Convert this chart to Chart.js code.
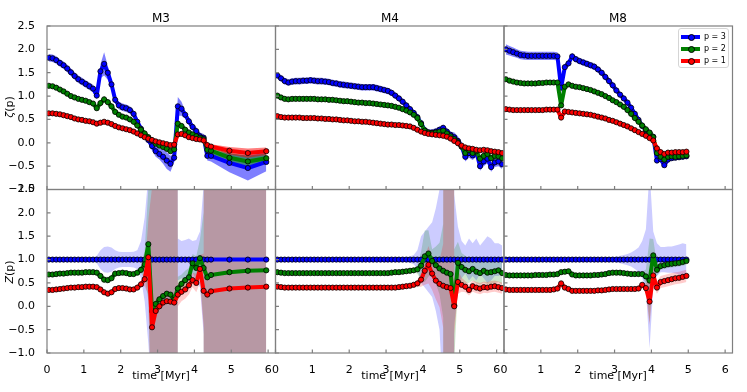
<!DOCTYPE html>
<html>
<head>
<meta charset="utf-8">
<script src="https://cdn.jsdelivr.net/npm/chart.js@4.4.0/dist/chart.umd.min.js"></script>
<style>
  html, body { margin: 0; padding: 0; background: #fff; }
  #fig { position: relative; width: 747px; height: 392px; background: #fff; font-family: 'DejaVu Sans', sans-serif; color: #000; overflow: hidden; }
  #fig canvas { position: absolute; left: 0; top: 0; }
  .lbl { position: absolute; white-space: nowrap; transform: translate(-50%, -50%); line-height: 1; }
  .ylbl { transform: translate(-50%, -50%) rotate(-90deg); }
  #legend { position: absolute; left: 678px; top: 28px; width: 49px; height: 38px; border: 1px solid #d5d5d5; border-radius: 3px; background: rgba(255,255,255,0.85); font-size: 8px; }
  .lg-row { position: absolute; left: 0; width: 100%; height: 10px; }
  .lg-line { position: absolute; left: 2px; top: 3px; width: 19px; height: 4px; }
  .lg-dot { position: absolute; left: 8.5px; top: 2px; width: 5px; height: 5px; border: 0.8px solid #000; border-radius: 50%; }
  .lg-text { position: absolute; left: 25px; top: 0; line-height: 10px; }
</style>
</head>
<body>
<div id="fig">
  <canvas id="m3top" width="747" height="392"></canvas>
  <canvas id="m4top" width="747" height="392"></canvas>
  <canvas id="m8top" width="747" height="392"></canvas>
  <canvas id="m3bot" width="747" height="392"></canvas>
  <canvas id="m4bot" width="747" height="392"></canvas>
  <canvas id="m8bot" width="747" height="392"></canvas>

  <div class="lbl" style="left:161px;top:18px;font-size:12px">M3</div>
  <div class="lbl" style="left:390px;top:18px;font-size:12px">M4</div>
  <div class="lbl" style="left:618px;top:18px;font-size:12px">M8</div>
  <div class="lbl ylbl" style="left:9px;top:107px;font-size:11px"><i>ζ</i>(p)</div>
  <div class="lbl ylbl" style="left:9px;top:272px;font-size:11px"><i>Z</i>(p)</div>
  <div class="lbl" style="left:161px;top:375px;font-size:11px">time [Myr]</div>
  <div class="lbl" style="left:390px;top:375px;font-size:11px">time [Myr]</div>
  <div class="lbl" style="left:618px;top:375px;font-size:11px">time [Myr]</div>
  <div id="legend"></div>
</div>
<script>
// ---- time samples ----
const timeM3 = [0.05,0.15,0.25,0.35,0.45,0.55,0.65,0.75,0.85,0.95,
  1.05,1.15,1.25,1.35,1.45,1.55,1.65,1.75,1.85,1.95,
  2.05,2.15,2.25,2.35,2.45,2.55,2.65,2.75,2.85,2.95,
  3.05,3.15,3.25,3.35,3.45,3.55,3.65,3.75,3.85,3.95,
  4.05,4.15,4.25,4.35,4.45,4.95,5.45,5.95];
const timeM4 = [0.05,0.15,0.25,0.35,0.45,0.55,0.65,0.75,0.85,0.95,
  1.05,1.15,1.25,1.35,1.45,1.55,1.65,1.75,1.85,1.95,
  2.05,2.15,2.25,2.35,2.45,2.55,2.65,2.75,2.85,2.95,
  3.05,3.15,3.25,3.35,3.45,3.55,3.65,3.75,3.85,3.95,
  4.05,4.15,4.25,4.35,4.45,4.55,4.65,4.75,4.85,4.95,
  5.05,5.15,5.25,5.35,5.45,5.55,5.65,5.75,5.85,5.95,
  6.05,6.15];
const timeM8 = [0.05,0.15,0.25,0.35,0.45,0.55,0.65,0.75,0.85,0.95,
  1.05,1.15,1.25,1.35,1.45,1.55,1.65,1.75,1.85,1.95,
  2.05,2.15,2.25,2.35,2.45,2.55,2.65,2.75,2.85,2.95,
  3.05,3.15,3.25,3.35,3.45,3.55,3.65,3.75,3.85,3.95,
  4.05,4.15,4.25,4.35,4.45,4.55,4.65,4.75,4.85,4.95];

const xTicks = [0, 1, 2, 3, 4, 5, 6];
const yTicks = [-1.0, -0.5, 0.0, 0.5, 1.0, 1.5, 2.0, 2.5];

// ---- zeta(p), M3 ----
const zetaM3_p3 = [1.82,1.81,1.77,1.71,1.66,1.59,1.51,1.43,1.36,1.31,
  1.26,1.21,1.16,1.01,1.53,1.69,1.50,1.25,0.92,0.80,
  0.76,0.74,0.70,0.62,0.45,0.30,0.16,0.06,-0.07,-0.18,
  -0.24,-0.30,-0.38,-0.45,-0.32,0.78,0.73,0.60,0.46,0.34,
  0.25,0.14,0.11,-0.28,-0.28,-0.43,-0.54,-0.41];
const errZetaM3_p3 = [0.08,0.08,0.08,0.08,0.08,0.08,0.08,0.08,0.08,0.08,
  0.08,0.08,0.08,0.08,0.15,0.25,0.15,0.10,0.08,0.08,
  0.08,0.08,0.08,0.08,0.08,0.08,0.08,0.08,0.10,0.12,
  0.12,0.15,0.18,0.17,0.10,0.20,0.15,0.08,0.08,0.08,
  0.08,0.08,0.08,0.10,0.12,0.20,0.27,0.20];
const zetaM3_p2 = [1.22,1.21,1.18,1.14,1.10,1.05,1.00,0.97,0.94,0.92,
  0.90,0.87,0.84,0.74,0.85,0.93,0.87,0.78,0.66,0.60,
  0.56,0.54,0.50,0.45,0.37,0.28,0.20,0.12,0.05,-0.02,
  -0.06,-0.09,-0.13,-0.18,-0.14,0.41,0.36,0.28,0.22,0.18,
  0.14,0.11,0.08,-0.15,-0.17,-0.32,-0.40,-0.33];
const errZetaM3_p2 = [0.04,0.04,0.04,0.04,0.04,0.04,0.04,0.04,0.04,0.04,
  0.04,0.04,0.04,0.04,0.04,0.07,0.04,0.04,0.04,0.04,
  0.04,0.04,0.04,0.04,0.04,0.04,0.04,0.04,0.04,0.05,
  0.05,0.05,0.05,0.05,0.04,0.04,0.04,0.04,0.04,0.04,
  0.04,0.04,0.04,0.06,0.07,0.10,0.12,0.10];
const zetaM3_p1 = [0.63,0.63,0.62,0.61,0.59,0.57,0.55,0.52,0.50,0.49,
  0.47,0.46,0.44,0.41,0.43,0.45,0.43,0.40,0.36,0.33,
  0.31,0.29,0.27,0.24,0.20,0.16,0.12,0.09,0.06,0.03,
  0.01,-0.01,-0.03,-0.05,-0.04,0.18,0.19,0.16,0.12,0.10,
  0.08,0.07,0.05,-0.05,-0.08,-0.17,-0.22,-0.18];
const errZetaM3_p1 = [0.03,0.03,0.03,0.03,0.03,0.03,0.03,0.03,0.03,0.03,
  0.03,0.03,0.03,0.03,0.03,0.03,0.03,0.03,0.03,0.03,
  0.03,0.03,0.03,0.03,0.03,0.03,0.03,0.03,0.03,0.03,
  0.03,0.03,0.03,0.03,0.03,0.03,0.03,0.03,0.03,0.03,
  0.03,0.03,0.03,0.04,0.05,0.08,0.10,0.08];

// ---- zeta(p), M4 ----
const zetaM4_p3 = [1.44,1.38,1.32,1.29,1.31,1.32,1.32,1.33,1.33,1.34,
  1.33,1.32,1.32,1.31,1.30,1.28,1.27,1.25,1.24,1.23,
  1.22,1.21,1.20,1.19,1.19,1.19,1.19,1.17,1.15,1.13,
  1.11,1.07,1.01,0.95,0.88,0.80,0.72,0.64,0.55,0.42,
  0.27,0.22,0.22,0.24,0.28,0.32,0.24,0.17,0.12,0.04,
  -0.08,-0.30,-0.22,-0.27,-0.20,-0.50,-0.40,-0.34,-0.52,-0.42,
  -0.40,-0.46];
const errZetaM4_p3 = [0.07,0.07,0.07,0.07,0.07,0.07,0.07,0.07,0.07,0.07,
  0.07,0.07,0.07,0.07,0.07,0.07,0.07,0.07,0.07,0.07,
  0.07,0.07,0.07,0.07,0.07,0.07,0.07,0.07,0.07,0.07,
  0.07,0.07,0.07,0.07,0.07,0.07,0.07,0.07,0.07,0.07,
  0.07,0.07,0.07,0.07,0.07,0.07,0.07,0.07,0.10,0.10,
  0.10,0.10,0.10,0.10,0.10,0.10,0.10,0.10,0.10,0.10,
  0.10,0.10];
const zetaM4_p2 = [1.01,0.97,0.94,0.93,0.94,0.94,0.94,0.94,0.94,0.94,
  0.94,0.93,0.93,0.93,0.92,0.92,0.91,0.90,0.89,0.89,
  0.88,0.87,0.86,0.86,0.85,0.85,0.84,0.83,0.82,0.81,
  0.80,0.79,0.77,0.75,0.72,0.69,0.65,0.60,0.53,0.40,
  0.26,0.22,0.21,0.22,0.24,0.26,0.20,0.14,0.08,0.01,
  -0.08,-0.22,-0.16,-0.22,-0.18,-0.34,-0.28,-0.24,-0.33,-0.28,
  -0.29,-0.33];
const errZetaM4_p2 = [0.05,0.05,0.05,0.05,0.05,0.05,0.05,0.05,0.05,0.05,
  0.05,0.05,0.05,0.05,0.05,0.05,0.05,0.05,0.05,0.05,
  0.05,0.05,0.05,0.05,0.05,0.05,0.05,0.05,0.05,0.05,
  0.05,0.05,0.05,0.05,0.05,0.05,0.05,0.05,0.05,0.05,
  0.05,0.05,0.05,0.05,0.05,0.05,0.05,0.05,0.07,0.07,
  0.07,0.07,0.07,0.07,0.07,0.07,0.07,0.07,0.07,0.07,
  0.07,0.07];
const zetaM4_p1 = [0.57,0.55,0.54,0.54,0.54,0.54,0.54,0.53,0.53,0.53,
  0.53,0.52,0.52,0.51,0.51,0.50,0.50,0.49,0.48,0.48,
  0.47,0.46,0.46,0.45,0.45,0.44,0.43,0.42,0.41,0.40,
  0.39,0.39,0.38,0.38,0.37,0.36,0.35,0.32,0.28,0.24,
  0.21,0.19,0.18,0.17,0.16,0.15,0.13,0.09,0.04,-0.01,
  -0.06,-0.10,-0.12,-0.13,-0.15,-0.16,-0.15,-0.16,-0.18,-0.19,
  -0.20,-0.22];
const errZetaM4_p1 = [0.03,0.03,0.03,0.03,0.03,0.03,0.03,0.03,0.03,0.03,
  0.03,0.03,0.03,0.03,0.03,0.03,0.03,0.03,0.03,0.03,
  0.03,0.03,0.03,0.03,0.03,0.03,0.03,0.03,0.03,0.03,
  0.03,0.03,0.03,0.03,0.03,0.03,0.03,0.03,0.03,0.03,
  0.03,0.03,0.03,0.03,0.03,0.03,0.03,0.03,0.04,0.04,
  0.04,0.04,0.04,0.04,0.04,0.04,0.04,0.04,0.04,0.04,
  0.04,0.04];

// ---- zeta(p), M8 ----
const zetaM8_p3 = [2.00,1.97,1.94,1.91,1.88,1.87,1.86,1.86,1.86,1.86,
  1.86,1.86,1.86,1.86,1.85,1.18,1.62,1.70,1.85,1.79,
  1.75,1.72,1.69,1.66,1.63,1.57,1.50,1.41,1.32,1.23,
  1.12,1.03,0.95,0.86,0.75,0.62,0.49,0.36,0.27,0.21,
  0.13,-0.38,-0.35,-0.48,-0.36,-0.33,-0.32,-0.31,-0.30,-0.29];
const errZetaM8_p3 = [0.11,0.10,0.10,0.09,0.09,0.09,0.09,0.09,0.09,0.09,
  0.09,0.09,0.09,0.09,0.09,0.12,0.07,0.07,0.07,0.07,
  0.07,0.07,0.07,0.07,0.07,0.07,0.07,0.07,0.07,0.07,
  0.05,0.05,0.05,0.05,0.05,0.05,0.05,0.05,0.05,0.05,
  0.05,0.05,0.05,0.05,0.05,0.05,0.05,0.05,0.05,0.05];
const zetaM8_p2 = [1.36,1.33,1.31,1.29,1.28,1.27,1.27,1.27,1.27,1.28,
  1.28,1.29,1.29,1.29,1.29,0.80,1.20,1.25,1.22,1.20,
  1.19,1.17,1.15,1.13,1.10,1.07,1.04,1.00,0.96,0.91,
  0.87,0.82,0.77,0.70,0.62,0.53,0.45,0.37,0.29,0.22,
  0.12,-0.22,-0.30,-0.36,-0.30,-0.29,-0.30,-0.29,-0.28,-0.27];
const errZetaM8_p2 = [0.04,0.04,0.04,0.04,0.04,0.04,0.04,0.04,0.04,0.04,
  0.04,0.04,0.04,0.04,0.04,0.06,0.04,0.04,0.04,0.04,
  0.04,0.04,0.04,0.04,0.04,0.04,0.04,0.04,0.04,0.04,
  0.04,0.04,0.04,0.04,0.04,0.04,0.04,0.04,0.04,0.04,
  0.04,0.04,0.04,0.04,0.04,0.04,0.04,0.04,0.04,0.04];
const zetaM8_p1 = [0.72,0.71,0.70,0.70,0.70,0.70,0.70,0.70,0.70,0.70,
  0.70,0.71,0.71,0.71,0.71,0.54,0.67,0.66,0.65,0.64,
  0.63,0.62,0.61,0.60,0.58,0.56,0.54,0.52,0.49,0.47,
  0.44,0.41,0.38,0.35,0.31,0.27,0.23,0.19,0.15,0.10,
  0.05,-0.12,-0.20,-0.24,-0.21,-0.21,-0.20,-0.20,-0.20,-0.19];
const errZetaM8_p1 = [0.03,0.03,0.03,0.03,0.03,0.03,0.03,0.03,0.03,0.03,
  0.03,0.03,0.03,0.03,0.03,0.03,0.03,0.03,0.03,0.03,
  0.03,0.03,0.03,0.03,0.03,0.03,0.03,0.03,0.03,0.03,
  0.03,0.03,0.03,0.03,0.03,0.03,0.03,0.03,0.03,0.03,
  0.03,0.03,0.03,0.03,0.03,0.03,0.03,0.03,0.03,0.03];

// ---- Z(p), M3 ----
const zM3_p3 = [1,1,1,1,1,1,1,1,1,1, 1,1,1,1,1,1,1,1,1,1,
  1,1,1,1,1,1,1,1,1,1, 1,1,1,1,1,1,1,1,1,1, 1,1,1,1,1,1,1,1];
const errZM3_p3 = [0.03,0.03,0.03,0.03,0.03,0.03,0.03,0.03,0.03,0.03,
  0.03,0.03,0.03,0.08,0.20,0.27,0.28,0.26,0.20,0.17,
  0.16,0.16,0.16,0.17,0.20,0.40,0.90,1.80,3,50,
  50,50,50,50,50,0.45,0.40,0.42,0.45,0.40,
  0.42,0.60,1.60,50,50,50,50,50];
const zM3_p2 = [0.68,0.68,0.69,0.70,0.70,0.71,0.72,0.72,0.72,0.72,
  0.73,0.73,0.73,0.72,0.65,0.57,0.56,0.60,0.70,0.71,
  0.72,0.71,0.69,0.69,0.72,0.78,0.90,1.33,-0.10,0.05,
  0.15,0.22,0.27,0.25,0.14,0.38,0.48,0.56,0.62,0.92,
  0.82,1.03,0.82,0.62,0.67,0.73,0.76,0.77];
const errZM3_p2 = [0.02,0.02,0.02,0.02,0.02,0.02,0.02,0.02,0.02,0.02,
  0.02,0.02,0.02,0.02,0.05,0.07,0.07,0.06,0.04,0.03,
  0.03,0.03,0.03,0.03,0.03,0.08,0.30,1.20,3,50,
  50,50,50,50,50,0.25,0.20,0.20,0.20,0.20,
  0.25,0.40,1.20,50,50,50,50,50];
const zM3_p1 = [0.35,0.35,0.36,0.37,0.38,0.39,0.40,0.40,0.41,0.41,
  0.42,0.42,0.42,0.41,0.36,0.30,0.27,0.30,0.37,0.39,
  0.39,0.38,0.36,0.36,0.40,0.47,0.58,1.05,-0.45,-0.10,
  0.00,0.08,0.11,0.10,0.08,0.25,0.31,0.36,0.45,0.56,
  0.50,0.80,0.33,0.25,0.32,0.38,0.40,0.42];
const errZM3_p1 = [0.02,0.02,0.02,0.02,0.02,0.02,0.02,0.02,0.02,0.02,
  0.02,0.02,0.02,0.02,0.04,0.05,0.05,0.04,0.03,0.03,
  0.03,0.03,0.03,0.03,0.03,0.06,0.15,0.80,3,50,
  50,50,50,50,50,0.25,0.20,0.20,0.20,0.15,
  0.20,0.30,0.80,50,50,50,50,50];

// ---- Z(p), M4 ----
const zM4_p3 = [1,1,1,1,1,1,1,1,1,1, 1,1,1,1,1,1,1,1,1,1,
  1,1,1,1,1,1,1,1,1,1, 1,1,1,1,1,1,1,1,1,1,
  1,1,1,1,1,1,1,1,1,1, 1,1,1,1,1,1,1,1,1,1, 1,1];
const errZM4_p3 = [0.03,0.03,0.03,0.03,0.03,0.03,0.03,0.03,0.03,0.03,
  0.03,0.03,0.03,0.03,0.03,0.03,0.03,0.03,0.03,0.03,
  0.03,0.03,0.03,0.03,0.03,0.03,0.03,0.03,0.03,0.03,
  0.03,0.03,0.03,0.03,0.03,0.05,0.07,0.10,0.20,0.50,
  0.60,0.70,0.80,1.10,1.50,3,50,50,1.40,0.70,
  0.40,0.30,0.45,0.35,0.45,0.30,0.40,0.50,0.45,0.35,
  0.35,0.30];
const zM4_p2 = [0.73,0.72,0.71,0.71,0.71,0.71,0.71,0.71,0.71,0.71,
  0.71,0.71,0.71,0.71,0.71,0.71,0.71,0.71,0.71,0.71,
  0.71,0.71,0.71,0.71,0.71,0.71,0.71,0.71,0.71,0.71,
  0.71,0.72,0.73,0.73,0.74,0.75,0.76,0.77,0.79,0.87,
  1.07,1.13,0.97,0.88,0.81,0.76,0.72,0.69,0.02,0.93,
  0.84,0.78,0.75,0.80,0.74,0.71,0.76,0.72,0.73,0.75,
  0.77,0.71];
const errZM4_p2 = [0.02,0.02,0.02,0.02,0.02,0.02,0.02,0.02,0.02,0.02,
  0.02,0.02,0.02,0.02,0.02,0.02,0.02,0.02,0.02,0.02,
  0.02,0.02,0.02,0.02,0.02,0.02,0.02,0.02,0.02,0.02,
  0.02,0.02,0.02,0.02,0.02,0.02,0.02,0.02,0.10,0.30,
  0.55,0.50,0.25,0.40,0.55,1.00,50,50,1.20,0.45,
  0.30,0.30,0.25,0.25,0.25,0.25,0.25,0.25,0.25,0.25,
  0.25,0.25];
const zM4_p1 = [0.42,0.41,0.40,0.40,0.40,0.40,0.40,0.40,0.40,0.40,
  0.40,0.40,0.40,0.40,0.40,0.40,0.40,0.40,0.40,0.40,
  0.40,0.40,0.40,0.40,0.40,0.40,0.40,0.40,0.40,0.40,
  0.40,0.40,0.40,0.41,0.42,0.43,0.44,0.46,0.49,0.57,
  0.76,0.89,0.70,0.55,0.48,0.44,0.41,0.39,0.00,0.52,
  0.46,0.42,0.35,0.43,0.40,0.38,0.41,0.40,0.42,0.43,
  0.41,0.39];
const errZM4_p1 = [0.02,0.02,0.02,0.02,0.02,0.02,0.02,0.02,0.02,0.02,
  0.02,0.02,0.02,0.02,0.02,0.02,0.02,0.02,0.02,0.02,
  0.02,0.02,0.02,0.02,0.02,0.02,0.02,0.02,0.02,0.02,
  0.02,0.02,0.02,0.02,0.02,0.02,0.02,0.02,0.08,0.15,
  0.30,0.40,0.35,0.40,0.50,0.90,50,50,0.60,0.25,
  0.15,0.12,0.12,0.12,0.12,0.12,0.12,0.12,0.12,0.12,
  0.12,0.12];

// ---- Z(p), M8 ----
const zM8_p3 = [1,1,1,1,1,1,1,1,1,1, 1,1,1,1,1,1,1,1,1,1,
  1,1,1,1,1,1,1,1,1,1, 1,1,1,1,1,1,1,1,1,1, 1,1,1,1,1,1,1,1,1,1];
const errZM8_p3 = [0.03,0.03,0.03,0.03,0.03,0.03,0.03,0.03,0.03,0.03,
  0.03,0.03,0.03,0.03,0.04,0.06,0.04,0.03,0.03,0.03,
  0.03,0.03,0.03,0.03,0.03,0.03,0.03,0.03,0.04,0.05,
  0.06,0.08,0.10,0.12,0.15,0.20,0.26,0.40,0.65,1.90,
  0.60,0.35,0.27,0.27,0.28,0.28,0.30,0.32,0.35,0.33];
const zM8_p2 = [0.67,0.66,0.66,0.66,0.66,0.66,0.66,0.66,0.67,0.67,
  0.67,0.67,0.68,0.68,0.69,0.73,0.74,0.75,0.68,0.66,
  0.66,0.66,0.66,0.66,0.67,0.67,0.68,0.69,0.71,0.72,
  0.72,0.72,0.71,0.70,0.69,0.69,0.69,0.69,0.64,0.55,
  1.09,0.78,0.86,0.88,0.90,0.91,0.92,0.93,0.95,0.97];
const errZM8_p2 = [0.02,0.02,0.02,0.02,0.02,0.02,0.02,0.02,0.02,0.02,
  0.02,0.02,0.02,0.02,0.02,0.02,0.02,0.02,0.02,0.02,
  0.02,0.02,0.02,0.02,0.02,0.02,0.02,0.02,0.02,0.02,
  0.02,0.02,0.02,0.02,0.02,0.02,0.02,0.05,0.15,0.90,
  0.35,0.12,0.08,0.08,0.08,0.08,0.08,0.08,0.08,0.08];
const zM8_p1 = [0.36,0.35,0.35,0.35,0.35,0.35,0.35,0.35,0.35,0.35,
  0.35,0.35,0.35,0.36,0.38,0.49,0.40,0.37,0.33,0.33,
  0.33,0.33,0.33,0.33,0.33,0.34,0.34,0.35,0.36,0.37,
  0.37,0.37,0.37,0.37,0.37,0.37,0.38,0.46,0.39,0.10,
  0.66,0.40,0.52,0.54,0.56,0.58,0.60,0.61,0.63,0.65];
const errZM8_p1 = [0.02,0.02,0.02,0.02,0.02,0.02,0.02,0.02,0.02,0.02,
  0.02,0.02,0.02,0.02,0.02,0.02,0.02,0.02,0.02,0.02,
  0.02,0.02,0.02,0.02,0.02,0.02,0.02,0.02,0.02,0.02,
  0.02,0.02,0.02,0.02,0.02,0.02,0.02,0.05,0.10,0.50,
  0.20,0.13,0.13,0.13,0.13,0.13,0.13,0.13,0.13,0.13];

// === оформление ===
Chart.defaults.font.family = "'DejaVu Sans', sans-serif";
Chart.defaults.font.size = 11;
Chart.defaults.color = '#000';

const FIG_W = 747, FIG_H = 392;
const colLeft = [47, 275.5, 504];
const colRight = [275.5, 504, 732.5];
const rowTop = [26, 189.5];
const rowBottom = [189.5, 353];

const seriesStyle = {
  p3: { label: 'p = 3', color: '#0000ff', rgb: '0,0,255' },
  p2: { label: 'p = 2', color: '#008000', rgb: '0,128,0' },
  p1: { label: 'p = 1', color: '#ff0000', rgb: '255,0,0' }
};

function triple(time, v3, e3, v2, e2, v1, e1) {
  return [
    { key: 'p3', time, values: v3, err: e3 },
    { key: 'p2', time, values: v2, err: e2 },
    { key: 'p1', time, values: v1, err: e1 }
  ];
}

const panels = [
  { id: 'm3top', col: 0, row: 0, alpha: 0.5, series: triple(timeM3, zetaM3_p3, errZetaM3_p3, zetaM3_p2, errZetaM3_p2, zetaM3_p1, errZetaM3_p1) },
  { id: 'm4top', col: 1, row: 0, alpha: 0.5, series: triple(timeM4, zetaM4_p3, errZetaM4_p3, zetaM4_p2, errZetaM4_p2, zetaM4_p1, errZetaM4_p1) },
  { id: 'm8top', col: 2, row: 0, alpha: 0.5, series: triple(timeM8, zetaM8_p3, errZetaM8_p3, zetaM8_p2, errZetaM8_p2, zetaM8_p1, errZetaM8_p1) },
  { id: 'm3bot', col: 0, row: 1, alpha: 0.2, series: triple(timeM3, zM3_p3, errZM3_p3, zM3_p2, errZM3_p2, zM3_p1, errZM3_p1) },
  { id: 'm4bot', col: 1, row: 1, alpha: 0.2, series: triple(timeM4, zM4_p3, errZM4_p3, zM4_p2, errZM4_p2, zM4_p1, errZM4_p1) },
  { id: 'm8bot', col: 2, row: 1, alpha: 0.2, series: triple(timeM8, zM8_p3, errZM8_p3, zM8_p2, errZM8_p2, zM8_p1, errZM8_p1) }
];

// рамка и короткие засечки внутрь
const framePlugin = {
  id: 'frame',
  afterDatasetsDraw(chart) {
    const { ctx, chartArea: a, scales } = chart;
    ctx.save();
    ctx.strokeStyle = '#7f7f7f';
    ctx.lineWidth = 1.2;
    ctx.beginPath();
    xTicks.forEach(v => {
      const px = scales.x.getPixelForValue(v);
      ctx.moveTo(px, a.bottom); ctx.lineTo(px, a.bottom - 3.5);
    });
    yTicks.forEach(v => {
      const py = scales.y.getPixelForValue(v);
      ctx.moveTo(a.left, py); ctx.lineTo(a.left + 3.5, py);
    });
    ctx.stroke();
    ctx.strokeRect(a.left, a.top, a.right - a.left, a.bottom - a.top);
    ctx.restore();
  }
};

function buildDatasets(panel) {
  const ds = [];
  // полосы: синяя рисуется первой, красная последней
  panel.series.forEach((s, k) => {
    const st = seriesStyle[s.key];
    ds.push({
      data: s.time.map((t, i) => ({ x: t, y: s.values[i] + s.err[i] })),
      fill: '+1',
      backgroundColor: `rgba(${st.rgb},${panel.alpha})`,
      borderColor: 'rgba(0,0,0,0)',
      borderWidth: 0, pointRadius: 0, order: 13 - k
    });
    ds.push({
      data: s.time.map((t, i) => ({ x: t, y: s.values[i] - s.err[i] })),
      fill: false,
      borderColor: 'rgba(0,0,0,0)',
      borderWidth: 0, pointRadius: 0, order: 13 - k
    });
  });
  panel.series.forEach((s, k) => {
    const st = seriesStyle[s.key];
    ds.push({
      data: s.time.map((t, i) => ({ x: t, y: s.values[i] })),
      borderColor: st.color,
      backgroundColor: st.color,
      borderWidth: 4,
      borderJoinStyle: 'round',
      pointRadius: 2.6,
      pointBorderWidth: 0.8,
      pointBorderColor: '#000',
      pointBackgroundColor: st.color,
      fill: false,
      tension: 0,
      order: 3 - k
    });
  });
  return ds;
}

panels.forEach(p => {
  const showX = p.row === 1;
  const showY = p.col === 0;
  // ось с подписями получает место слева/снизу, остальным ширина 0
  const yWidth = showY ? colLeft[p.col] : 0;
  const xHeight = showX ? FIG_H - rowBottom[p.row] : 0;
  const ctx = document.getElementById(p.id).getContext('2d');
  new Chart(ctx, {
    type: 'line',
    data: { datasets: buildDatasets(p) },
    options: {
      responsive: false,
      animation: false,
      events: [],
      layout: {
        padding: {
          left: colLeft[p.col] - yWidth,
          right: FIG_W - colRight[p.col],
          top: rowTop[p.row],
          bottom: FIG_H - rowBottom[p.row] - xHeight
        }
      },
      plugins: { legend: { display: false }, tooltip: { enabled: false } },
      scales: {
        x: {
          type: 'linear', min: 0, max: 6.2,
          grid: { display: false }, border: { display: false },
          afterFit: s => { s.height = xHeight; },
          afterBuildTicks: s => { s.ticks = xTicks.map(v => ({ value: v })); },
          ticks: { display: showX, padding: 3, autoSkip: false, maxRotation: 0,
                   callback: v => String(v) }
        },
        y: {
          type: 'linear', min: -1, max: 2.5,
          grid: { display: false }, border: { display: false },
          afterFit: s => { s.width = yWidth; },
          afterBuildTicks: s => { s.ticks = yTicks.map(v => ({ value: v })); },
          ticks: { display: showY, padding: 4, autoSkip: false,
                   callback: v => v.toFixed(1).replace('-', '\u2212') }
        }
      }
    },
    plugins: [framePlugin]
  });
});

// Легенда
const legendEl = document.getElementById('legend');
['p3', 'p2', 'p1'].forEach((key, i) => {
  const st = seriesStyle[key];
  const row = document.createElement('div');
  row.className = 'lg-row';
  row.style.top = (3 + i * 12.2) + 'px';
  row.innerHTML = `<div class="lg-line" style="background:${st.color}"></div>` +
    `<div class="lg-dot" style="background:${st.color}"></div>` +
    `<div class="lg-text">${st.label}</div>`;
  legendEl.appendChild(row);
});
</script>
</body>
</html>
